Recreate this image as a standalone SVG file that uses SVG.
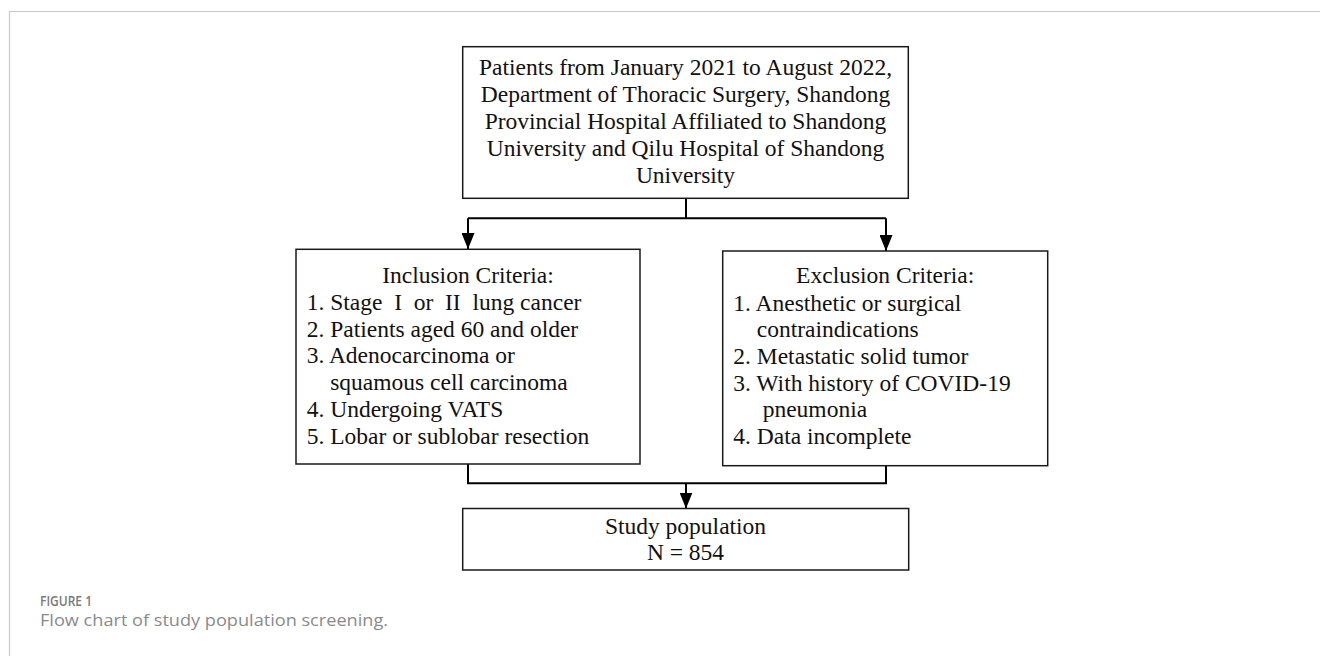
<svg xmlns="http://www.w3.org/2000/svg" width="1320" height="656" viewBox="0 0 1320 656">
<style>
.box{fill:#fff;stroke:#1a1a1a;stroke-width:1.5}
.t{font-family:"Liberation Serif","Times New Roman",serif;font-size:23.5px;fill:#111}
.c{text-anchor:middle}
.conn{fill:none;stroke:#000;stroke-width:2}
.frame{stroke:#c8c8c8;stroke-width:1.2;fill:none}
.cap1{font-family:"Open Sans","Liberation Sans",sans-serif;font-size:14px;font-weight:600;fill:#7a7a7a}
.cap2{font-family:"Open Sans","Liberation Sans",sans-serif;font-size:17px;fill:#8a8a8a}
</style>
<defs>
<marker id="ah" markerWidth="16" markerHeight="13" refX="16" refY="6.5" orient="auto" markerUnits="userSpaceOnUse" viewBox="0 0 16 13">
<path d="M0,0 L16,6.5 L0,13 Z" fill="#000"/>
</marker>
</defs>
<rect width="1320" height="656" fill="#fff"/>
<path class="frame" d="M9.5,656 V11.5 H1320"/>
<g id="connectors">
<path class="conn" d="M686,198 V218.3 M468,218.3 H886"/>
<path class="conn" d="M468,218.3 V249" marker-end="url(#ah)"/>
<path class="conn" d="M886,218.3 V251" marker-end="url(#ah)"/>
<path class="conn" d="M468,464 V483.3 H886 V466"/>
<path class="conn" d="M686,483.3 V508.5" marker-end="url(#ah)"/>
</g>
<g id="node-patients">
<rect class="box" x="462.7" y="46.7" width="445.6" height="151.6"/>
<text class="t c" x="685.5" y="75">Patients from January 2021 to August 2022,</text>
<text class="t c" x="685.5" y="102">Department of Thoracic Surgery, Shandong</text>
<text class="t c" x="685.5" y="129">Provincial Hospital Affiliated to Shandong</text>
<text class="t c" x="685.5" y="156">University and Qilu Hospital of Shandong</text>
<text class="t c" x="685.5" y="183">University</text>
</g>
<g id="node-inclusion">
<rect class="box" x="296" y="249.3" width="344" height="214.7"/>
<text class="t c" x="468" y="283">Inclusion Criteria:</text>
<text class="t" x="306.7" y="310" xml:space="preserve">1. Stage  I  or  II  lung cancer</text>
<text class="t" x="306.7" y="336.7">2. Patients aged 60 and older</text>
<text class="t" x="306.7" y="363.4">3. Adenocarcinoma or</text>
<text class="t" x="330.2" y="390.1">squamous cell carcinoma</text>
<text class="t" x="306.7" y="416.8">4. Undergoing VATS</text>
<text class="t" x="306.7" y="443.5">5. Lobar or sublobar resection</text>
</g>
<g id="node-exclusion">
<rect class="box" x="722.7" y="251" width="325" height="214.7"/>
<text class="t c" x="885.2" y="283">Exclusion Criteria:</text>
<text class="t" x="733.3" y="310.5">1. Anesthetic or surgical</text>
<text class="t" x="756.8" y="337.2">contraindications</text>
<text class="t" x="733.3" y="363.9">2. Metastatic solid tumor</text>
<text class="t" x="733.3" y="390.6">3. With history of COVID-19</text>
<text class="t" x="762.7" y="417.3">pneumonia</text>
<text class="t" x="733.3" y="444">4. Data incomplete</text>
</g>
<g id="node-study">
<rect class="box" x="462.7" y="508.5" width="446" height="61.5"/>
<text class="t c" x="685.5" y="534.3">Study population</text>
<text class="t c" x="685.5" y="560">N = 854</text>
</g>
<g id="caption">
<text class="cap1" x="40" y="605.5" textLength="52" lengthAdjust="spacingAndGlyphs">FIGURE 1</text>
<text class="cap2" x="40" y="626" textLength="348" lengthAdjust="spacingAndGlyphs">Flow chart of study population screening.</text>
</g>
</svg>
